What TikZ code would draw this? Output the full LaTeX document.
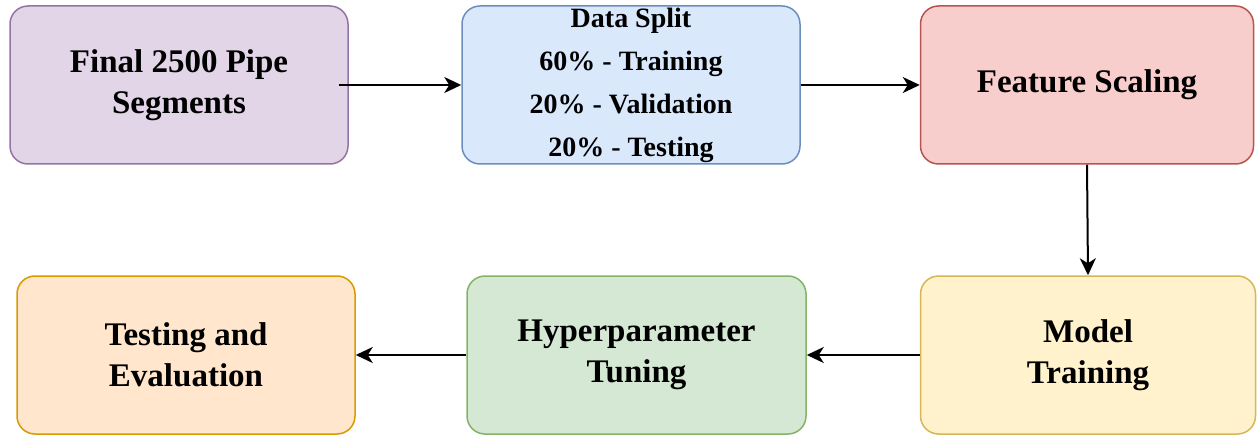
\documentclass[tikz,border=0pt]{standalone}
\usepackage{fontspec}
\setmainfont{Liberation Serif}
\usetikzlibrary{arrows.meta}
\definecolor{pfill}{HTML}{E1D5E7}\definecolor{pdraw}{HTML}{9673A6}
\definecolor{bfill}{HTML}{DAE8FC}\definecolor{bdraw}{HTML}{6C8EBF}
\definecolor{rfill}{HTML}{F8CECC}\definecolor{rdraw}{HTML}{B85450}
\definecolor{yfill}{HTML}{FFF2CC}\definecolor{ydraw}{HTML}{D6B656}
\definecolor{gfill}{HTML}{D5E8D4}\definecolor{gdraw}{HTML}{82B366}
\definecolor{ofill}{HTML}{FFE6CC}\definecolor{odraw}{HTML}{D79B00}
\begin{document}
\begin{tikzpicture}[x=1pt,y=1pt,
  box/.style={rounded corners=18pt, line width=1.5pt, minimum height=158pt,
    align=center, inner sep=0pt, font=\fontsize{33}{41}\selectfont\bfseries},
  arr/.style={-{Stealth[length=17pt,width=16pt,inset=5pt]}, line width=2pt, black}]
\useasboundingbox (0,0) rectangle (1257,437);
\node[box, fill=pfill, draw=pdraw, minimum width=338pt] (b1) at (179,352) {Final 2500 Pipe\\Segments};
\node[box, fill=bfill, draw=bdraw, minimum width=338pt, font=\fontsize{28}{43}\selectfont\bfseries] (b2) at (631,352) {Data Split\\60\% - Training\\20\% - Validation\\20\% - Testing};
\node[box, fill=rfill, draw=rdraw, minimum width=333pt] (b3) at (1087,352) {Feature Scaling};
\node[box, fill=yfill, draw=ydraw, minimum width=335pt] (b4) at (1088,82) {Model\\Training};
\node[box, fill=gfill, draw=gdraw, minimum width=339pt] (b5) at (636.5,82) {Hyperparameter\\Tuning};
\node[box, fill=ofill, draw=odraw, minimum width=338pt] (b6) at (186,82) {Testing and\\Evaluation};
\draw[arr] ([xshift=-10pt]b1.east) -- (b2.west);
\draw[arr] (b2.east) -- (b3.west);
\draw[arr] (b3.south) -- (b4.north);
\draw[arr] (b4.west) -- (b5.east);
\draw[arr] (b5.west) -- (b6.east);
\end{tikzpicture}
\end{document}
